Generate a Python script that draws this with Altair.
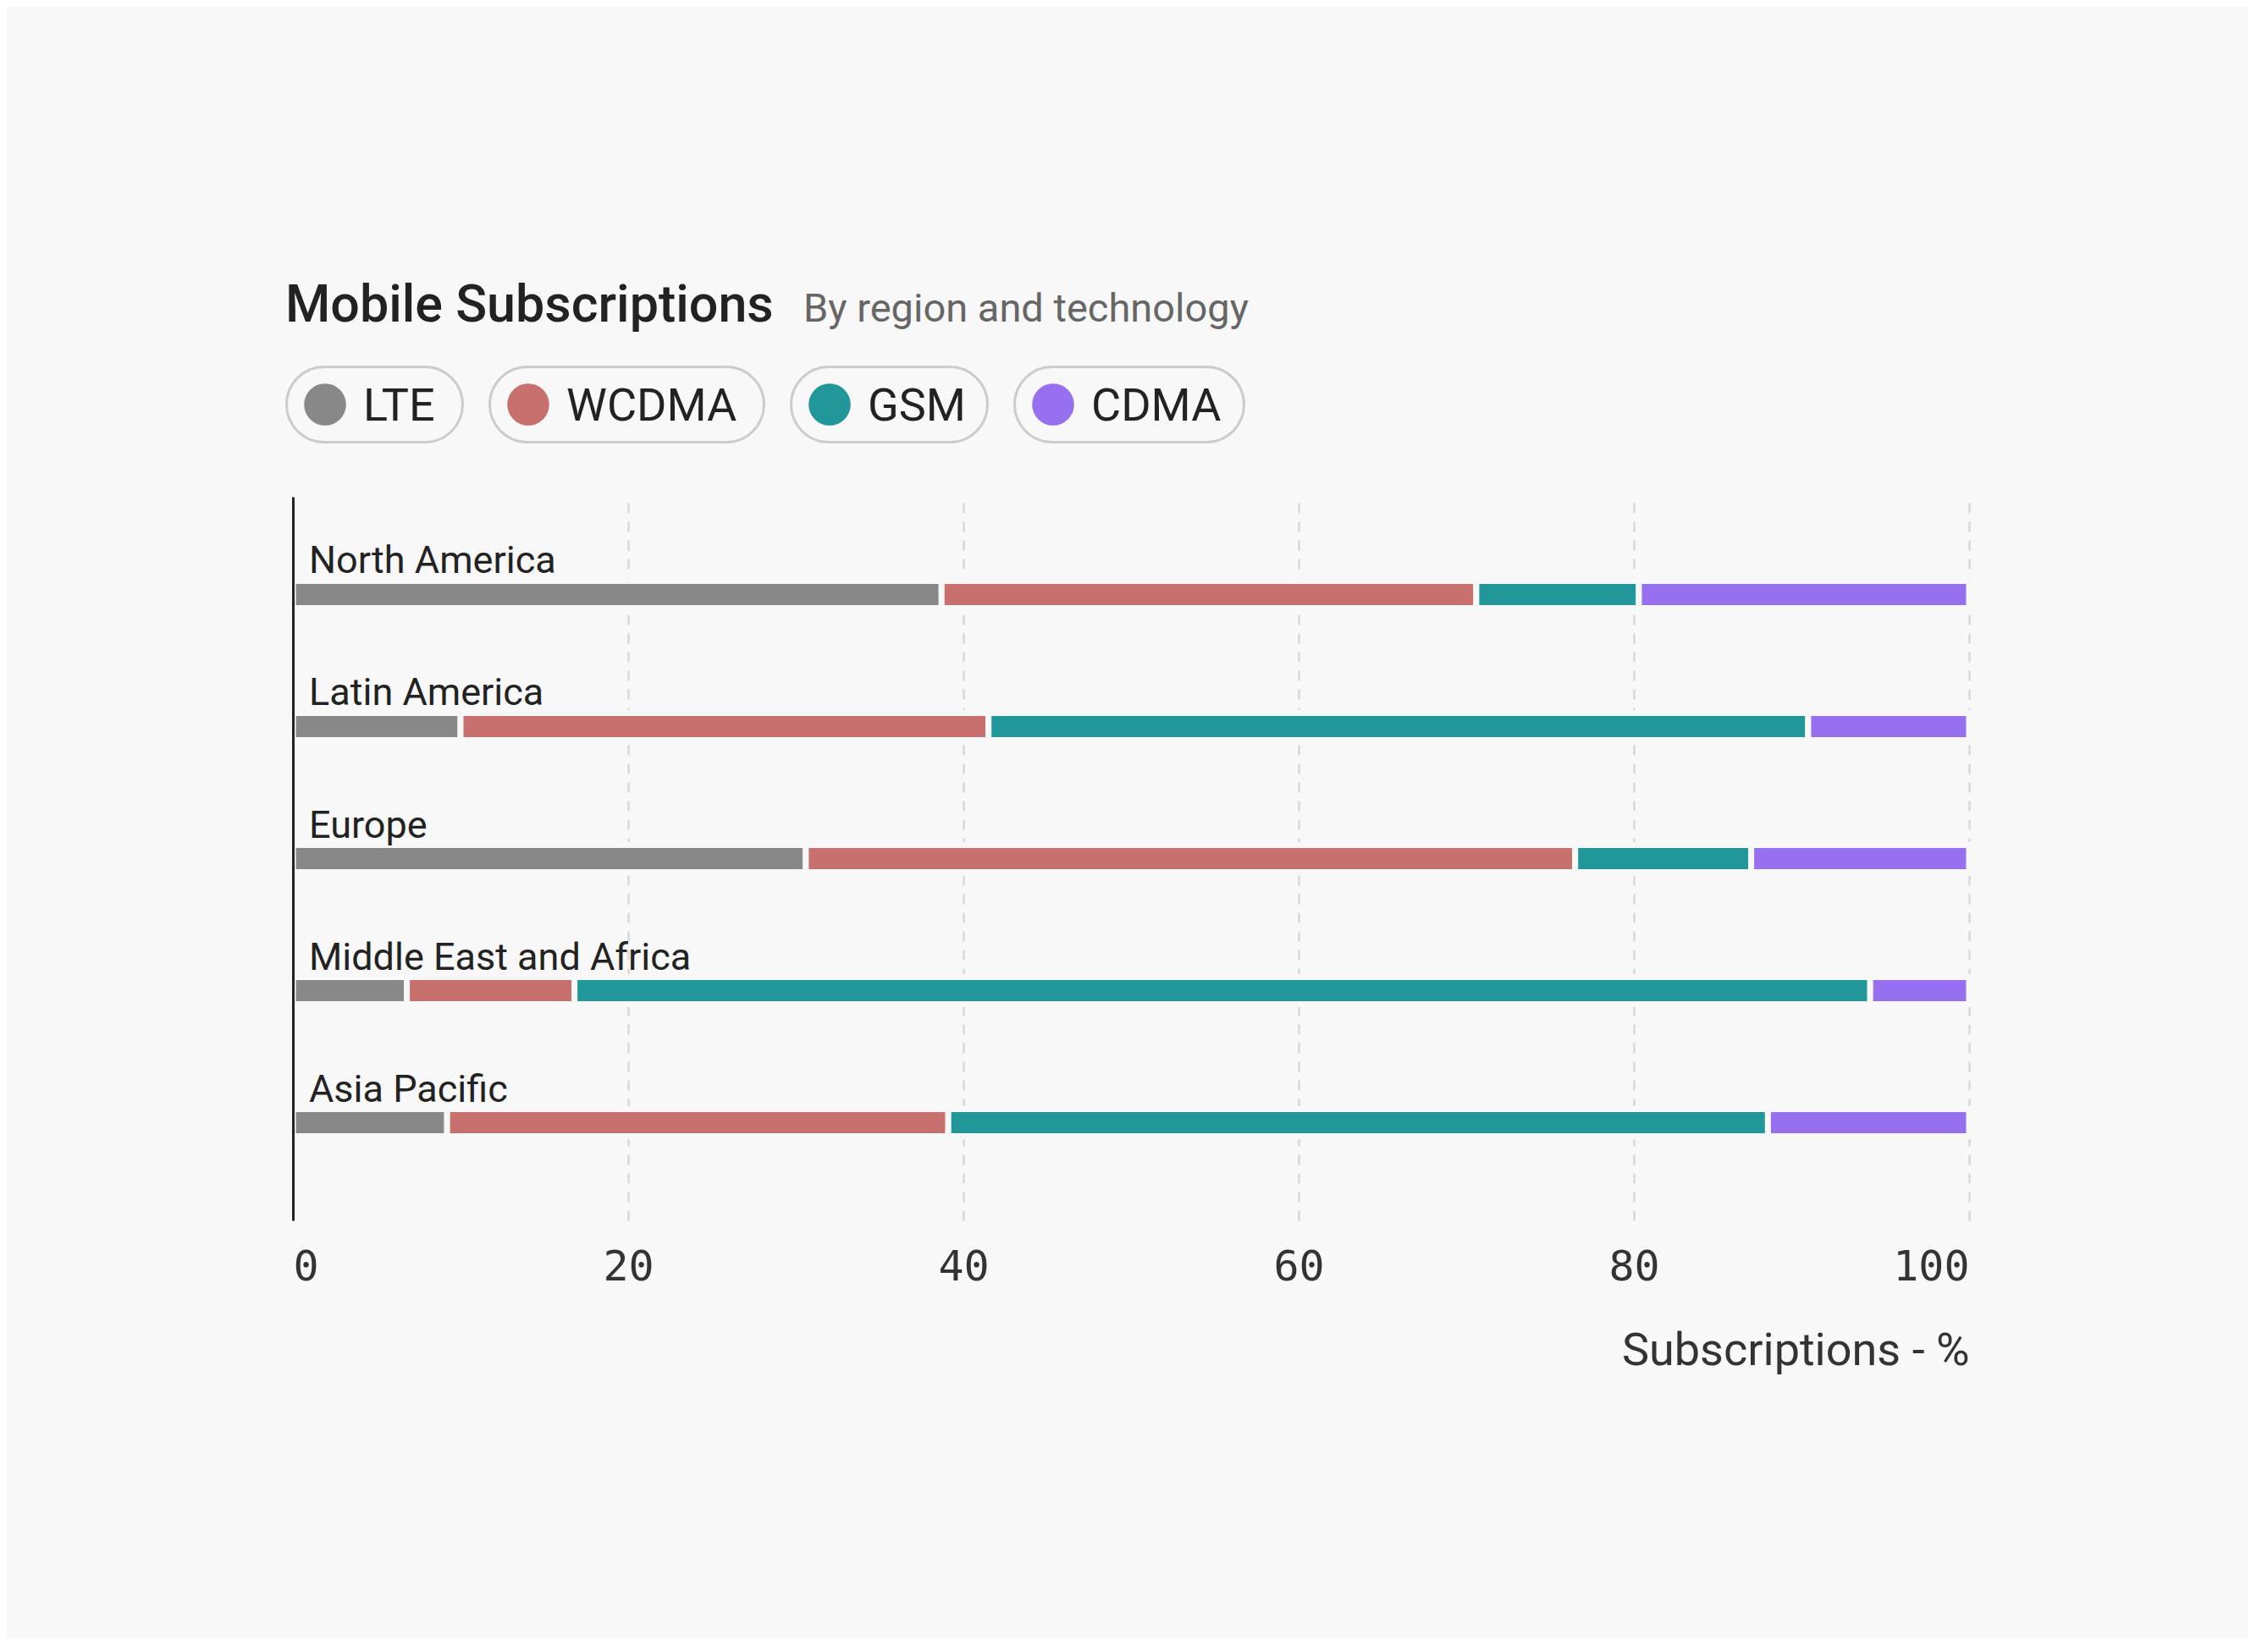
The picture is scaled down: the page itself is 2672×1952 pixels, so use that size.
import altair as alt
import pandas as pd

BG = "#f8f8f8"
TITLE = "Mobile Subscriptions"
SUBTITLE = "By region and technology"
REGIONS = ["North America", "Latin America", "Europe", "Middle East and Africa", "Asia Pacific"]
TECHS = ["LTE", "WCDMA", "GSM", "CDMA"]
COLORS = ["#888888", "#c8706d", "#229799", "#9670ef"]
LTE = [38.7, 10.0, 30.6, 6.8, 9.2]
WCDMA = [31.9, 31.5, 45.9, 10.0, 29.9]
GSM = [9.7, 48.9, 10.5, 77.3, 48.9]
CDMA = [19.7, 9.6, 13.0, 5.9, 12.0]
TICKS = [0, 20, 40, 60, 80, 100]
X_TITLE = "Subscriptions - %"
PILL_WIDTHS = [211, 327, 235, 274]

series = {"LTE": LTE, "WCDMA": WCDMA, "GSM": GSM, "CDMA": CDMA}
rows = []
for ti, t in enumerate(TECHS):
    for ri, r in enumerate(REGIONS):
        rows.append({"region": r, "tech": t, "value": series[t][ri], "order": ti})
df = pd.DataFrame(rows)

color_scale = alt.Scale(domain=TECHS, range=COLORS)
SHIFT = -9  # header and legend start slightly left of the plot area
PH = 92     # pill height

# Header
t1 = alt.Chart(pd.DataFrame({"label": [TITLE]})).mark_text(
    align="left", baseline="alphabetic", fontSize=61, fontWeight=500, color="#222222"
).encode(x=alt.value(SHIFT), y=alt.value(50), text="label:N")
t2 = alt.Chart(pd.DataFrame({"label": [SUBTITLE]})).mark_text(
    align="left", baseline="alphabetic", fontSize=47, color="#666666"
).encode(x=alt.value(SHIFT + 612), y=alt.value(50), text="label:N")
header = alt.layer(t1, t2).properties(width=1200, height=65)

# Legend pills
def pill(tech, w, shift):
    base = alt.Chart(pd.DataFrame({"tech": [tech]}))
    rect = base.mark_rect(cornerRadius=PH / 2 - 1.5, fill=BG, stroke="#cccccc", strokeWidth=3).encode(
        x=alt.value(shift + 1.5), x2=alt.value(shift + w - 1.5),
        y=alt.value(1.5), y2=alt.value(PH - 1.5)
    )
    dot = base.mark_circle(size=2463, opacity=1).encode(
        x=alt.value(shift + 47), y=alt.value(PH / 2),
        color=alt.Color("tech:N", scale=color_scale, legend=None),
    )
    txt = base.mark_text(align="left", baseline="alphabetic", fontSize=54, color="#222222").encode(
        x=alt.value(shift + 92), y=alt.value(PH / 2 + 19), text="tech:N"
    )
    return alt.layer(rect, dot, txt).properties(width=w + shift, height=PH)

legend_row = alt.hconcat(
    *[pill(t, w, SHIFT if i == 0 else 0) for i, (t, w) in enumerate(zip(TECHS, PILL_WIDTHS))],
    spacing=29,
)

# Main chart
y_axis = alt.Axis(title=None, labels=False, ticks=False, domain=True, domainColor="#222222",
                  domainWidth=3, grid=False, minExtent=9, maxExtent=9, zindex=1)
y_enc = alt.Y("region:N", sort=REGIONS, axis=y_axis,
              scale=alt.Scale(paddingInner=0, paddingOuter=0.24))

bars = alt.Chart(df).mark_bar(size=32, stroke=BG, strokeWidth=7).encode(
    x=alt.X("value:Q", stack="zero",
            scale=alt.Scale(domain=[0, 100], nice=False),
            axis=alt.Axis(values=TICKS, title=X_TITLE, ticks=False, domain=False,
                          grid=True, gridDash=[12, 10], gridColor="#dddddd", gridWidth=3,
                          labelFont="DejaVu Sans Mono", labelFontSize=50, labelColor="#333333",
                          labelFlush=True, labelPadding=30,
                          titleFont="Roboto", titleFontSize=54, titleFontWeight="normal",
                          titleColor="#333333", titleAnchor="end", titlePadding=47)),
    y=y_enc,
    color=alt.Color("tech:N", scale=color_scale, legend=None),
    order=alt.Order("order:Q"),
)

labels = alt.Chart(pd.DataFrame({"region": REGIONS})).mark_text(
    align="left", baseline="alphabetic", dx=19, dy=-25, fontSize=45, color="#222222"
).encode(x=alt.value(0), y=y_enc, text="region:N")

main = alt.layer(bars, labels).properties(width=1980, height=855)

top = alt.vconcat(header, legend_row, spacing=37)
chart = alt.vconcat(top, main, spacing=63).properties(
    padding={"left": 329, "top": 322, "right": 326, "bottom": 312},
    background=BG,
).configure(font="Roboto").configure_view(strokeWidth=0)

chart.save("out.html", embed_options={"renderer": "svg", "actions": False})
